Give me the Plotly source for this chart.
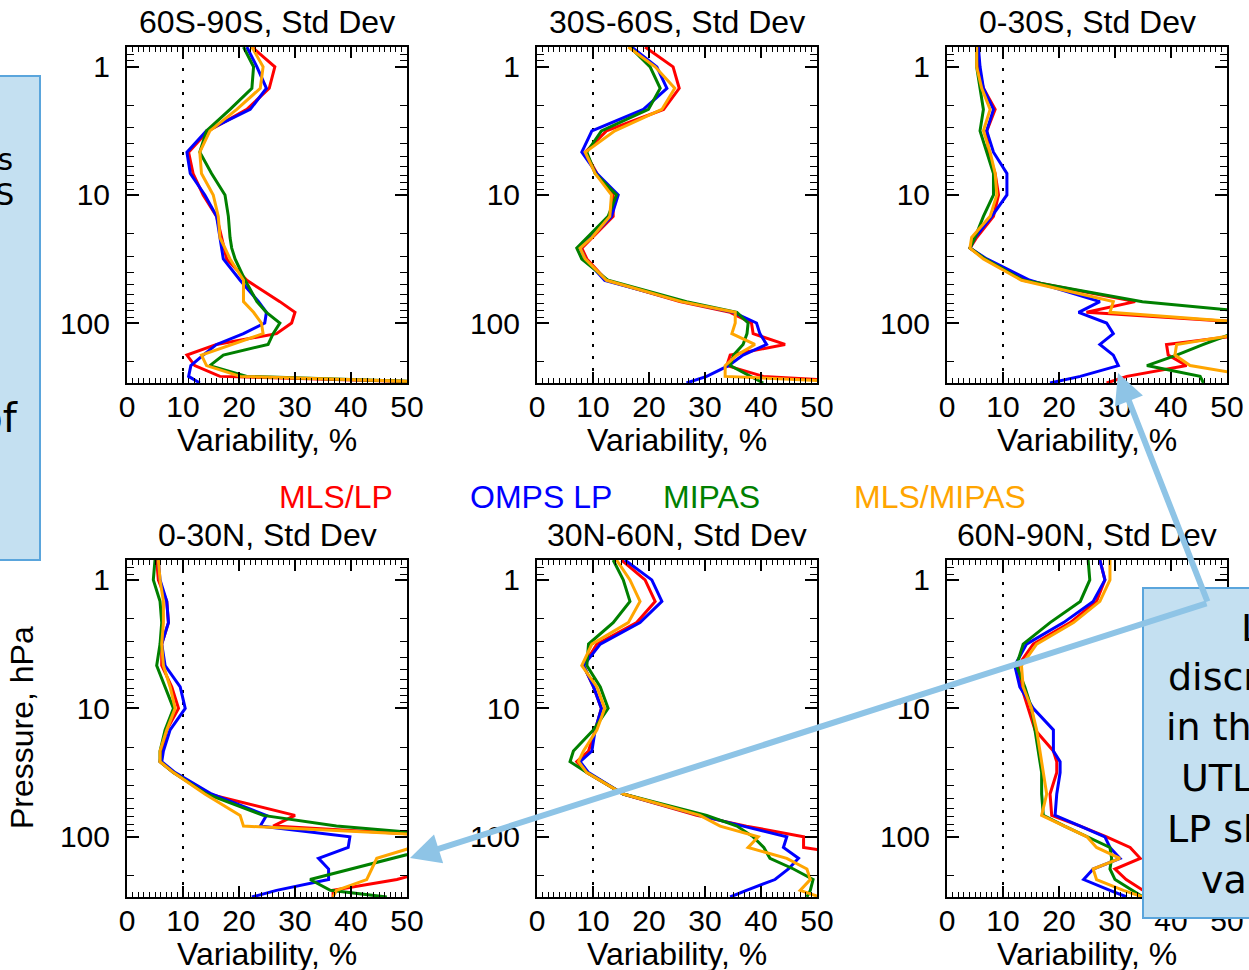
import numpy as np
import plotly.graph_objects as go

W, H = 1249, 970

# Pressure levels (hPa)
pressure = [0.7, 1, 1.47, 2.15, 3.16, 4.64, 6.81, 10, 14.7, 21.5, 26, 31.6, 46.4, 68.1,
            82.5, 100, 121, 147, 178, 215, 261, 294]

panel_titles = ["60S-90S, Std Dev", "30S-60S, Std Dev", "0-30S, Std Dev",
                "0-30N, Std Dev", "30N-60N, Std Dev", "60N-90N, Std Dev"]
series_names = ["MLS/LP", "OMPS LP", "MIPAS", "MLS/MIPAS"]
series_colors = ["#ff0000", "#0000ff", "#008000", "#ffa500"]
x_ticks = [0, 10, 20, 30, 40, 50]
y_ticks = [1, 10, 100]
y_ticktext = ["1", "10", "100"]

# 60S-90S
mlslp_60s90s = [22.3, 26.4, 25.4, 21.4, 14.5, 11.0, 11.8, 13.6, 16.0, 16.9, 17.3, 17.8, 21.4, 27.3, 30.0, 29.4, 26.7, 16.0, 10.7, 12.1, 16.6, 60]
omps_60s90s = [21.4, 23.2, 24.9, 22.0, 14.2, 10.7, 11.3, 13.9, 16.0, 16.6, 16.9, 17.2, 20.2, 23.5, 24.9, 24.6, 20.8, 16.0, 13.6, 11.4, 11.0, 13.0]
mipas_60s90s = [20.8, 22.6, 22.3, 18.4, 14.2, 13.0, 15.1, 17.5, 18.1, 18.4, 18.7, 19.3, 21.1, 23.2, 24.9, 27.3, 26.1, 25.2, 17.2, 14.8, 21.4, 60]
mlsmipas_60s90s = [22.3, 24.3, 23.8, 19.6, 14.8, 13.0, 13.3, 15.4, 16.3, 16.6, 17.5, 18.4, 20.8, 20.8, 22.6, 24.0, 24.3, 18.7, 13.3, 14.2, 20.2, 60]

# 30S-60S
mlslp_30s60s = [19.3, 24.3, 25.4, 22.6, 12.4, 8.6, 10.7, 13.6, 13.6, 9.8, 8.0, 8.9, 12.4, 25.5, 34.5, 38.3, 38.6, 44.3, 34.5, 33.9, 40.4, 60]
omps_30s60s = [16.9, 21.4, 23.2, 19.0, 9.8, 8.0, 10.7, 14.5, 13.3, 9.5, 7.7, 8.6, 12.1, 26.1, 35.1, 39.2, 39.8, 41.0, 36.8, 34.2, 30.3, 26.7]
mipas_30s60s = [16.6, 20.2, 22.0, 19.9, 11.5, 8.9, 10.4, 14.2, 12.7, 8.9, 7.1, 8.0, 12.7, 26.7, 35.7, 37.7, 37.5, 36.8, 35.1, 34.5, 38.0, 40.4]
mlsmipas_30s60s = [16.3, 21.1, 24.6, 22.3, 13.9, 8.6, 10.4, 13.3, 13.0, 9.8, 7.7, 8.6, 12.4, 25.8, 35.4, 35.4, 34.8, 38.9, 35.7, 33.6, 33.6, 60]

# 0-30S
mlslp_0s30s = [5.6, 5.6, 6.5, 8.6, 7.1, 7.4, 8.6, 9.2, 8.3, 5.3, 4.1, 6.8, 13.9, 33.6, 24.9, 55, 55, 39.2, 39.5, 42.8, 32.1, 28.5]
omps_0s30s = [5.6, 5.9, 6.5, 8.3, 7.1, 8.3, 10.7, 10.7, 8.0, 5.0, 4.1, 7.1, 14.8, 27.3, 23.5, 28.5, 29.7, 27.3, 29.7, 30.6, 23.8, 18.4]
mipas_0s30s = [5.3, 5.3, 5.9, 6.5, 5.9, 7.1, 8.3, 8.3, 6.5, 5.0, 4.1, 6.8, 13.6, 34.9, 55, 60, 51, 45.8, 41.0, 35.7, 45.2, 45.8]
mlsmipas_0s30s = [5.3, 5.3, 6.2, 7.7, 6.5, 7.7, 8.6, 8.9, 7.7, 4.4, 4.1, 6.5, 13.3, 29.7, 29.1, 55, 53, 41.0, 40.7, 43.4, 55, 60]

# 0-30N
mlslp_0n30n = [5.3, 5.6, 7.1, 7.4, 6.2, 6.2, 8.0, 9.2, 7.1, 6.2, 5.9, 8.3, 14.5, 30.0, 26.1, 60, 60, 60, 55, 48.2, 36.8, 36.8]
omps_0n30n = [5.6, 5.9, 7.1, 7.4, 6.2, 6.8, 9.5, 10.4, 7.7, 6.5, 6.2, 8.6, 15.1, 24.9, 23.8, 39.8, 39.5, 34.2, 36.0, 36.0, 26.7, 22.3]
mipas_0n30n = [5.0, 4.7, 5.9, 6.2, 5.9, 5.3, 6.8, 8.3, 6.8, 5.9, 5.9, 8.3, 14.2, 24.3, 37.4, 60, 55, 47.6, 40.4, 32.7, 36.3, 46.4]
mlsmipas_0n30n = [5.6, 5.9, 6.5, 6.5, 6.2, 6.5, 7.7, 8.6, 7.1, 5.9, 5.9, 8.3, 13.9, 20.2, 20.8, 60, 51, 44.6, 43.7, 42.8, 37.4, 36.8]

# 30N-60N
mlslp_30n60n = [15.1, 19.3, 21.1, 17.8, 10.7, 8.3, 10.1, 11.5, 10.4, 9.2, 7.1, 8.9, 15.4, 28.5, 37.4, 47.6, 47.6, 60, 60, 60, 60, 60]
omps_30n60n = [15.7, 20.5, 22.3, 18.4, 11.3, 8.3, 10.1, 11.5, 10.4, 9.8, 7.7, 9.2, 15.4, 29.1, 36.8, 44.6, 44.0, 46.7, 44.9, 42.5, 37.4, 34.5]
mipas_30n60n = [13.6, 15.4, 16.6, 13.6, 9.2, 8.9, 11.3, 12.7, 10.1, 6.5, 5.9, 8.9, 15.4, 30.3, 35.7, 38.6, 40.5, 41.6, 45.8, 49.3, 48.8, 48.2]
mlsmipas_30n60n = [14.2, 16.6, 18.4, 16.3, 9.8, 8.0, 10.7, 12.1, 10.7, 8.3, 7.4, 8.9, 15.4, 29.1, 32.7, 39.5, 37.7, 44.6, 48.2, 48.8, 47.0, 50.5]

# 60N-90N
mlslp_60n90n = [27.3, 28.2, 26.7, 22.0, 15.4, 12.7, 13.3, 14.5, 15.7, 19.0, 19.6, 19.6, 18.4, 18.7, 23.8, 28.5, 32.7, 34.5, 30.0, 32.0, 35.0, 36.0]
omps_60n90n = [27.3, 28.2, 26.1, 20.8, 14.2, 12.1, 13.0, 15.4, 19.0, 19.0, 20.2, 20.2, 19.6, 19.3, 23.8, 28.2, 29.1, 30.9, 26.1, 24.4, 29.1, 32.1]
mipas_60n90n = [25.2, 25.5, 23.8, 18.4, 13.6, 12.4, 13.9, 15.1, 15.7, 16.3, 16.6, 16.9, 16.9, 17.2, 21.0, 25.2, 29.1, 29.4, 29.1, 30.0, 33.0, 35.0]
mlsmipas_60n90n = [29.1, 29.1, 27.3, 22.6, 16.0, 13.3, 13.6, 15.1, 16.0, 16.6, 16.9, 17.2, 17.8, 16.9, 20.8, 25.0, 26.7, 30.9, 26.1, 26.7, 31.5, 35.0]

panels = [
    [mlslp_60s90s, omps_60s90s, mipas_60s90s, mlsmipas_60s90s],
    [mlslp_30s60s, omps_30s60s, mipas_30s60s, mlsmipas_30s60s],
    [mlslp_0s30s, omps_0s30s, mipas_0s30s, mlsmipas_0s30s],
    [mlslp_0n30n, omps_0n30n, mipas_0n30n, mlsmipas_0n30n],
    [mlslp_30n60n, omps_30n60n, mipas_30n60n, mlsmipas_30n60n],
    [mlslp_60n90n, omps_60n90n, mipas_60n90n, mlsmipas_60n90n],
]

FONT = "Liberation Sans, Arial, Helvetica, sans-serif"
BOXFONT = "DejaVu Sans, Verdana, sans-serif"
FS_TICK = 30
FS = 32

def px_x(p):
    return p / W

def px_y(p):
    return 1 - p / H

col_px = [(127, 407), (537, 817), (947, 1227)]
row_px = [(47, 383), (560, 897)]

fig = go.Figure()
layout = dict(
    width=W, height=H, margin=dict(l=0, r=0, t=0, b=0, pad=0, autoexpand=False),
    paper_bgcolor="white", plot_bgcolor="white", showlegend=False,
    font=dict(family=FONT, size=FS, color="black"),
)
annotations = []
shapes = []

for i in range(6):
    r, c = divmod(i, 3)
    xa = "x" if i == 0 else f"x{i+1}"
    ya = "y" if i == 0 else f"y{i+1}"
    xkey = "xaxis" if i == 0 else f"xaxis{i+1}"
    ykey = "yaxis" if i == 0 else f"yaxis{i+1}"
    x0, x1 = col_px[c]
    yt, yb = row_px[r]
    layout[xkey] = dict(
        domain=[px_x(x0), px_x(x1)], anchor=ya, range=[0, 50], automargin=False,
        tickmode="array", tickvals=x_ticks, ticktext=[str(v) for v in x_ticks],
        ticks="inside", ticklen=11, tickwidth=1.5, tickcolor="black",
        mirror="allticks", showline=True, linecolor="black", linewidth=2,
        showgrid=False, zeroline=False,
        minor=dict(dtick=1, ticks="inside", ticklen=5, tickwidth=1.2, tickcolor="black", showgrid=False),
        tickfont=dict(size=FS_TICK, family=FONT, color="black"),
        ticklabelstandoff=-4,
    )
    layout[ykey] = dict(
        domain=[px_y(yb), px_y(yt)], anchor=xa, type="log", automargin=False,
        range=[np.log10(294), np.log10(0.7)],
        tickmode="array", tickvals=y_ticks, ticktext=y_ticktext,
        ticks="inside", ticklen=12, tickwidth=1.5, tickcolor="black",
        mirror="allticks", showline=True, linecolor="black", linewidth=2,
        showgrid=False, zeroline=False,
        minor=dict(dtick="D1", ticks="inside", ticklen=7, tickwidth=1.2, tickcolor="black", showgrid=False),
        tickfont=dict(size=FS_TICK, family=FONT, color="black"),
        ticklabelstandoff=9,
    )
    # reference dotted line at 10%
    shapes.append(dict(type="line", xref=xa, yref=f"{ya} domain", x0=10, x1=10, y0=0, y1=1,
                       line=dict(color="black", width=2, dash="3px,9px"), layer="below"))
    for s in range(4):
        fig.add_trace(go.Scatter(x=panels[i][s], y=pressure, mode="lines",
                                 line=dict(color=series_colors[s], width=3),
                                 name=series_names[s], xaxis=xa, yaxis=ya))
    annotations.append(dict(text=panel_titles[i], xref="paper", yref="paper",
                            x=px_x((x0 + x1) / 2), y=px_y(yt - 25), xanchor="center", yanchor="middle",
                            showarrow=False, font=dict(size=FS, family=FONT, color="black")))
    annotations.append(dict(text="Variability, %", xref="paper", yref="paper",
                            x=px_x((x0 + x1) / 2), y=px_y(yb + 57), xanchor="center", yanchor="middle",
                            showarrow=False, font=dict(size=FS, family=FONT, color="black")))

# legend row
legend_x = [336, 541, 711, 940]
for s in range(4):
    annotations.append(dict(text=series_names[s], xref="paper", yref="paper",
                            x=px_x(legend_x[s]), y=px_y(497), xanchor="center", yanchor="middle",
                            showarrow=False, font=dict(size=FS, family=FONT, color=series_colors[s])))

annotations.append(dict(text="Pressure, hPa", xref="paper", yref="paper", textangle=-90,
                        x=px_x(22), y=px_y(728), xanchor="center", yanchor="middle",
                        showarrow=False, font=dict(size=FS, family=FONT, color="black")))

# callout boxes
box_fill = "#c4e0f1"
box_line = "#5aa5dc"
shapes.append(dict(type="rect", xref="paper", yref="paper", x0=px_x(-20), x1=px_x(40),
                   y0=px_y(560), y1=px_y(76), fillcolor=box_fill, line=dict(color=box_line, width=2),
                   layer="above"))
shapes.append(dict(type="rect", xref="paper", yref="paper", x0=px_x(1143), x1=px_x(1280),
                   y0=px_y(918), y1=px_y(588), fillcolor=box_fill, line=dict(color=box_line, width=2),
                   layer="above"))

left_lines = [("Ozone variations", 160, 30, 15), ("from OMPS, MLS, MIPAS", 195, 30, 16),
              ("Comparison of", 418, 40, 20)]
for txt, yy, fs, xr in left_lines:
    annotations.append(dict(text=txt, xref="paper", yref="paper", x=px_x(xr), y=px_y(yy),
                            xanchor="right", yanchor="middle", showarrow=False,
                            font=dict(size=fs, family=BOXFONT, color="black")))

right_lines = [("Large", 1239, 628), ("discrepancies", 1166, 677), ("in the", 1164, 727),
               ("UTLS: OMPS", 1179, 778), ("LP shows large", 1165, 829), ("variability", 1199, 880)]
for txt, xx, yy in right_lines:
    annotations.append(dict(text=txt, xref="paper", yref="paper", x=px_x(xx), y=px_y(yy),
                            xanchor="left", yanchor="middle", showarrow=False,
                            font=dict(size=38, family=BOXFONT, color="black")))

# arrows
arrow_col = "#8ec4e6"
vx, vy = 1208, 603
for tx, ty in [(1118, 373), (410, 858)]:
    annotations.append(dict(text="", xref="paper", yref="paper", x=px_x(tx), y=px_y(ty),
                            ax=vx - tx, ay=vy - ty, axref="pixel", ayref="pixel",
                            showarrow=True, arrowhead=2, arrowsize=1.0, arrowwidth=6,
                            arrowcolor=arrow_col, standoff=0, startstandoff=0))

layout["annotations"] = annotations
layout["shapes"] = shapes
fig.update_layout(**layout)
fig.write_html("out.html", config={"displayModeBar": False},
               post_script="document.body.style.margin='0';document.body.style.overflow='hidden';")
